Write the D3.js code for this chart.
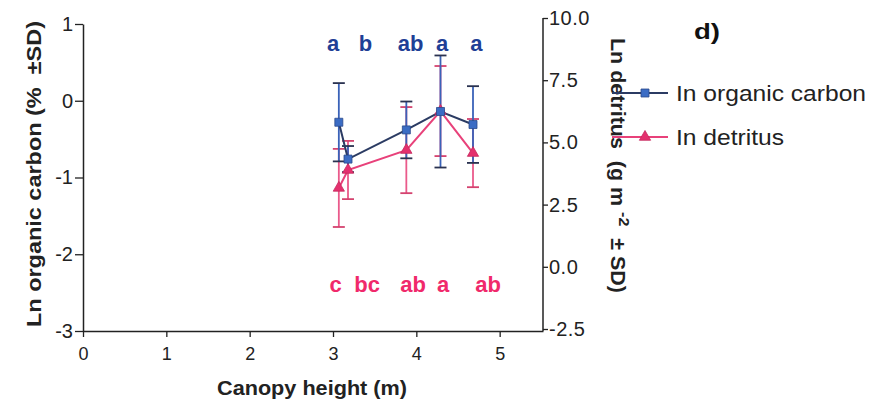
<!DOCTYPE html>
<html>
<head>
<meta charset="utf-8">
<script src="https://cdnjs.cloudflare.com/ajax/libs/d3/7.8.5/d3.min.js"></script>
<style>
  html, body { margin: 0; padding: 0; background: #ffffff; }
  svg { display: block; font-family: "Liberation Sans", Arial, Helvetica, sans-serif; }
</style>
</head>
<body>
<svg id="chart" width="882" height="402"></svg>
<script>
// ---- data ----
const canopyHeight = [3.07, 3.18, 3.88, 4.29, 4.68];
const lnCarbon     = [-0.28, -0.76, -0.38, -0.14, -0.31];
const lnCarbonSD   = [0.51, 0.17, 0.37, 0.73, 0.50];
const lnDetritus   = [3.17, 3.89, 4.69, 6.26, 4.57];
const lnDetritusSD = [1.57, 1.17, 1.73, 1.81, 1.37];
const carbonLetters   = ["a", "b", "ab", "a", "a"];
const carbonLetterX   = [3.0, 3.39, 3.93, 4.31, 4.72];
const detritusLetters = ["c", "bc", "ab", "a", "ab"];
const detritusLetterX = [3.03, 3.41, 3.96, 4.32, 4.86];
const xTicks  = [0, 1, 2, 3, 4, 5];
const yLTicks = [-3, -2, -1, 0, 1];
const yRTicks = [-2.5, 0, 2.5, 5, 7.5, 10];
const seriesNames = ["In organic carbon", "In detritus"];

// ---- styles ----
const blueLine = "#2b3b63", blueErr = "#3a62b8", blueCap = "#2a3250", blueFill = "#3b6cc4", blueText = "#1f3f96";
const pinkLine = "#e8417a", pinkErr = "#ea5a8b", pinkCap = "#d4436f", pinkFill = "#e4306e", pinkText = "#f0296b";
const axisColor = "#222";

const svg = d3.select("#chart");

const x  = d3.scaleLinear().domain([0, 5.52]).range([83, 543]);
const yL = d3.scaleLinear().domain([-3, 1]).range([331, 24]);
const yR = d3.scaleLinear().domain([-2.5, 10]).range([329, 18]);

const hy = f => (d => f(d).replace("\u2212", "-"));

// ---- axes ----
const gx = svg.append("g").attr("transform", `translate(0,${yL(-3)})`)
  .call(d3.axisBottom(x).tickValues(xTicks).tickFormat(d3.format("d")).tickSize(6).tickPadding(10).tickSizeOuter(0));
const gl = svg.append("g").attr("transform", `translate(${x(0)},0)`)
  .call(d3.axisLeft(yL).tickValues(yLTicks).tickFormat(hy(d3.format("d"))).tickSize(8).tickPadding(2).tickSizeOuter(0));
const gr = svg.append("g").attr("transform", `translate(${x(5.52)},0)`)
  .call(d3.axisRight(yR).tickValues(yRTicks).tickFormat(hy(d3.format(".1f"))).tickSize(5).tickPadding(1).tickSizeOuter(0));

[gx, gl, gr].forEach(g => {
  g.selectAll("path.domain").attr("stroke", axisColor).attr("stroke-width", 1.5);
  g.selectAll(".tick line").attr("stroke", axisColor).attr("stroke-width", 1.3);
  g.selectAll(".tick text").attr("fill", "#222").style("font-size", "19px")
    .style("font-family", '"Liberation Sans", Arial, sans-serif');
});
gx.selectAll(".tick text").style("font-size", "18px");
gr.selectAll(".tick text").style("font-size", "20px").style("letter-spacing", "0.5px");
gl.selectAll(".tick text").style("font-size", "20px");
gr.select("path.domain").attr("d", `M0,${yR(10)}V${yL(-3)}`);

// ---- axis titles ----
svg.append("text")
  .attr("transform", `translate(41,${174}) rotate(-90)`)
  .attr("text-anchor", "middle")
  .style("white-space", "pre")
  .attr("textLength", 306).attr("lengthAdjust", "spacingAndGlyphs")
  .style("font-size", "20px").style("font-weight", "bold").attr("fill", "#222")
  .text("Ln organic carbon (%  \u00B1SD)");

const rt = svg.append("text")
  .attr("transform", `translate(611,${38}) rotate(90)`)
  .attr("text-anchor", "start")
  .style("white-space", "pre")
  .attr("textLength", 255).attr("lengthAdjust", "spacingAndGlyphs")
  .style("font-size", "20px").style("font-weight", "bold").attr("fill", "#222");
rt.append("tspan").text("Ln detritus  (g m ");
rt.append("tspan").attr("dy", -8).style("font-size", "15px").text("-2");
rt.append("tspan").attr("dy", 8).text("  \u00B1 SD)");

svg.append("text")
  .attr("x", 312).attr("y", 395)
  .attr("text-anchor", "middle")
  .attr("textLength", 190).attr("lengthAdjust", "spacingAndGlyphs")
  .style("font-size", "20px").style("font-weight", "bold").attr("fill", "#222")
  .text("Canopy height (m)");

svg.append("text")
  .attr("x", 694).attr("y", 39)
  .attr("textLength", 26).attr("lengthAdjust", "spacingAndGlyphs")
  .style("font-size", "22px").style("font-weight", "bold").attr("fill", "#111")
  .text("d)");

// ---- series ----
const idx = d3.range(canopyHeight.length);

function drawErr(yScale, vals, sds, errColor, capColor) {
  const g = svg.append("g");
  g.selectAll("line.err").data(idx).join("line")
    .attr("x1", i => x(canopyHeight[i])).attr("x2", i => x(canopyHeight[i]))
    .attr("y1", i => yScale(vals[i] + sds[i])).attr("y2", i => yScale(vals[i] - sds[i]))
    .attr("stroke", errColor).attr("stroke-width", 1.8);
  ["+", "-"].forEach(sg => {
    g.selectAll(null).data(idx).join("line")
      .attr("x1", i => x(canopyHeight[i]) - 6).attr("x2", i => x(canopyHeight[i]) + 6)
      .attr("y1", i => yScale(sg === "+" ? vals[i] + sds[i] : vals[i] - sds[i]))
      .attr("y2", i => yScale(sg === "+" ? vals[i] + sds[i] : vals[i] - sds[i]))
      .attr("stroke", capColor).attr("stroke-width", 1.8);
  });
}

drawErr(yR, lnDetritus, lnDetritusSD, pinkErr, pinkCap);
drawErr(yL, lnCarbon, lnCarbonSD, blueErr, blueCap);

const linePink = d3.line().x(i => x(canopyHeight[i])).y(i => yR(lnDetritus[i]));
const lineBlue = d3.line().x(i => x(canopyHeight[i])).y(i => yL(lnCarbon[i]));

svg.append("path").datum(idx).attr("d", linePink)
  .attr("fill", "none").attr("stroke", pinkLine).attr("stroke-width", 2);
svg.append("path").datum(idx).attr("d", lineBlue)
  .attr("fill", "none").attr("stroke", blueLine).attr("stroke-width", 2);

const tri = d3.symbol().type(d3.symbolTriangle).size(55);
const sq  = d3.symbol().type(d3.symbolSquare).size(64);

svg.selectAll("path.tri").data(idx).join("path")
  .attr("transform", i => `translate(${x(canopyHeight[i])},${yR(lnDetritus[i])})`)
  .attr("d", tri).attr("fill", pinkFill).attr("stroke", "#c52a5e").attr("stroke-width", 0.8);
svg.selectAll("path.sq").data(idx).join("path")
  .attr("transform", i => `translate(${x(canopyHeight[i])},${yL(lnCarbon[i])})`)
  .attr("d", sq).attr("fill", blueFill).attr("stroke", "#2b4a8a").attr("stroke-width", 0.8);

// ---- significance letters ----
svg.selectAll("text.cl").data(idx).join("text")
  .attr("x", i => x(carbonLetterX[i])).attr("y", 51)
  .attr("text-anchor", "middle")
  .style("font-size", "22px").style("font-weight", "bold").attr("fill", blueText)
  .text(i => carbonLetters[i]);
svg.selectAll("text.dl").data(idx).join("text")
  .attr("x", i => x(detritusLetterX[i])).attr("y", 292)
  .attr("text-anchor", "middle")
  .style("font-size", "22px").style("font-weight", "bold").attr("fill", pinkText)
  .text(i => detritusLetters[i]);

// ---- legend ----
const legend = [
  { name: seriesNames[0], y: 93, len: 190, line: blueLine, sym: sq, fill: blueFill, stroke: "#2b4a8a" },
  { name: seriesNames[1], y: 137, len: 108, line: pinkLine, sym: tri, fill: pinkFill, stroke: "#c52a5e" }
];
const lg = svg.append("g");
legend.forEach(d => {
  lg.append("line").attr("x1", 612).attr("x2", 668).attr("y1", d.y).attr("y2", d.y)
    .attr("stroke", d.line).attr("stroke-width", 2);
  lg.append("path").attr("transform", `translate(645,${d.y})`).attr("d", d.sym)
    .attr("fill", d.fill).attr("stroke", d.stroke).attr("stroke-width", 0.8);
  lg.append("text").attr("x", 676).attr("y", d.y + 8)
    .attr("textLength", d.len).attr("lengthAdjust", "spacingAndGlyphs")
    .style("font-size", "22px").attr("fill", "#222")
    .text(d.name);
});
</script>
</body>
</html>
